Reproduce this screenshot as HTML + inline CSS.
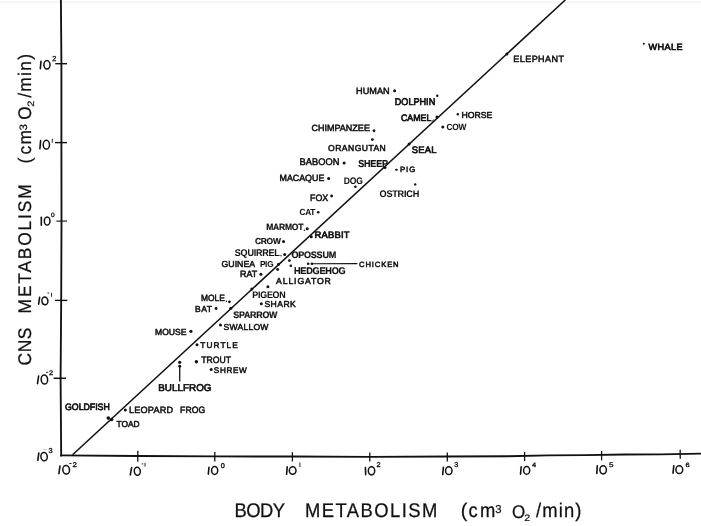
<!DOCTYPE html>
<html><head><meta charset="utf-8"><title>CNS metabolism vs body metabolism</title>
<style>html,body{margin:0;padding:0;background:#fff;overflow:hidden}svg{display:block;filter:grayscale(1)}text{font-family:"Liberation Sans",sans-serif;fill:#111;text-rendering:geometricPrecision}.b{font-weight:bold}</style></head><body>
<svg width="701" height="526" viewBox="0 0 701 526">
<rect x="0" y="0" width="701" height="526" fill="#ffffff"/>
<rect x="0" y="1.4" width="701" height="1.6" fill="#f3f3f3"/>
<g stroke="#111" fill="none" stroke-linecap="butt">
<polyline stroke-width="1.85" points="60.9,0 61.4,63 61.4,143 61.5,221 61.2,300 60.6,378 61.2,456.4"/>
<polyline stroke-width="1.85" points="60.3,455.4 138,456.0 215,456.4 292,456.5 370,456.8 447,456.5 508,456.2 548,455.4 585,455.1 625,454.5 661,454.3 701,453.6"/>
<line stroke-width="1.55" x1="72.6" y1="454.8" x2="565.3" y2="0"/>
<line stroke-width="1.4" x1="55.3" y1="63.7" x2="67.0" y2="63.7"/>
<line stroke-width="1.4" x1="55.0" y1="142.6" x2="67.0" y2="142.6"/>
<line stroke-width="1.1" x1="56.4" y1="221.1" x2="67.0" y2="221.1"/>
<line stroke-width="1.4" x1="55.0" y1="300.4" x2="67.3" y2="300.4"/>
<line stroke-width="1.5" x1="53.6" y1="378.3" x2="66.0" y2="378.3"/>
<line stroke-width="1.3" x1="137.8" y1="450.8" x2="137.8" y2="461.8"/>
<line stroke-width="1.3" x1="214.8" y1="451.9" x2="214.8" y2="461.5"/>
<line stroke-width="1.3" x1="292.4" y1="452.2" x2="292.4" y2="461.5"/>
<line stroke-width="1.3" x1="369.8" y1="452.6" x2="369.8" y2="461.5"/>
<line stroke-width="1.3" x1="447.3" y1="452.6" x2="447.3" y2="461.5"/>
<line stroke-width="1.3" x1="524.6" y1="451.9" x2="524.6" y2="461.1"/>
<line stroke-width="1.3" x1="601.6" y1="450.8" x2="601.6" y2="460.4"/>
<line stroke-width="1.3" x1="680.2" y1="449.8" x2="680.2" y2="458.7"/>
<line stroke-width="1.15" x1="312" y1="263.8" x2="357.4" y2="263.6"/>
<line stroke-width="1.3" x1="179.7" y1="365" x2="179.7" y2="381.5"/>
</g>
<g fill="#111">
<circle cx="643.8" cy="43.8" r="1.0"/>
<circle cx="506.9" cy="54.1" r="1.5"/>
<circle cx="394.6" cy="90.7" r="1.5"/>
<circle cx="437.3" cy="95.8" r="1.2"/>
<circle cx="437.0" cy="117.1" r="1.5"/>
<circle cx="457.8" cy="114.3" r="1.2"/>
<circle cx="442.8" cy="127.0" r="1.5"/>
<circle cx="372.4" cy="139.6" r="1.4"/>
<circle cx="409.1" cy="143.9" r="1.5"/>
<circle cx="344.1" cy="163.1" r="1.5"/>
<circle cx="385.0" cy="167.5" r="1.5"/>
<circle cx="328.6" cy="178.6" r="1.5"/>
<circle cx="355.4" cy="186.8" r="1.3"/>
<circle cx="415.2" cy="184.4" r="1.2"/>
<circle cx="331.6" cy="196.0" r="1.4"/>
<circle cx="318.2" cy="212.3" r="1.3"/>
<circle cx="307.2" cy="228.8" r="1.5"/>
<circle cx="311.3" cy="236.7" r="1.5"/>
<circle cx="283.5" cy="241.6" r="1.5"/>
<circle cx="284.7" cy="254.6" r="1.5"/>
<circle cx="289.4" cy="260.6" r="1.4"/>
<circle cx="278.5" cy="264.3" r="1.5"/>
<circle cx="277.6" cy="269.5" r="1.4"/>
<circle cx="290.8" cy="265.8" r="1.3"/>
<circle cx="308.2" cy="263.8" r="1.3"/>
<circle cx="311.9" cy="263.8" r="1.3"/>
<circle cx="260.9" cy="274.2" r="1.5"/>
<circle cx="267.9" cy="286.8" r="1.5"/>
<circle cx="251.8" cy="289.0" r="1.5"/>
<circle cx="229.4" cy="301.8" r="1.4"/>
<circle cx="261.3" cy="303.7" r="1.5"/>
<circle cx="216.1" cy="308.5" r="1.4"/>
<circle cx="230.8" cy="308.2" r="1.5"/>
<circle cx="220.5" cy="325.0" r="1.5"/>
<circle cx="190.9" cy="331.3" r="1.6"/>
<circle cx="197.0" cy="344.7" r="1.5"/>
<circle cx="196.4" cy="361.7" r="1.7"/>
<circle cx="211.2" cy="369.5" r="1.5"/>
<circle cx="179.7" cy="362.3" r="1.6"/>
<circle cx="179.7" cy="366.2" r="1.45"/>
<circle cx="108.3" cy="418.1" r="1.8"/>
<circle cx="111.6" cy="419.5" r="1.8"/>
<circle cx="125.3" cy="410.0" r="1.5"/>
<ellipse cx="396.5" cy="169.7" rx="1.4" ry="0.95"/>
<path d="M372.3,130.8 L374.0,129.0 L375.7,130.8 L374.0,132.5 Z"/>
</g>
<text x="648.4" y="49.7" font-size="9.15" stroke="#111" stroke-width="0.68" textLength="34.2" lengthAdjust="spacing">WHALE</text>
<text x="513.2" y="62.1" font-size="9.01" stroke="#111" stroke-width="0.5" textLength="50.8" lengthAdjust="spacing">ELEPHANT</text>
<text x="356.1" y="94.2" font-size="9.15" stroke="#111" stroke-width="0.52" textLength="33.5" lengthAdjust="spacingAndGlyphs">HUMAN</text>
<text x="394.8" y="105.4" font-size="9.71" stroke="#111" stroke-width="0.7" textLength="40.4" lengthAdjust="spacingAndGlyphs">DOLPHIN</text>
<text x="401.0" y="120.5" font-size="9.43" stroke="#111" stroke-width="0.7" textLength="30.4" lengthAdjust="spacingAndGlyphs">CAMEL</text>
<text x="461.5" y="117.5" font-size="8.73" stroke="#111" stroke-width="0.52" textLength="30.9" lengthAdjust="spacingAndGlyphs">HORSE</text>
<text x="446.5" y="130.2" font-size="9.01" font-weight="bold" letter-spacing="-0.25" stroke="#111" stroke-width="0.05" textLength="19.8" lengthAdjust="spacingAndGlyphs">COW</text>
<text x="311.5" y="131.1" font-size="9.01" stroke="#111" stroke-width="0.5" textLength="58.4" lengthAdjust="spacing">CHIMPANZEE</text>
<text x="328.1" y="150.7" font-size="8.59" stroke="#111" stroke-width="0.5" textLength="57.7" lengthAdjust="spacing">ORANGUTAN</text>
<text x="411.7" y="152.8" font-size="9.43" stroke="#111" stroke-width="0.68" textLength="24.9" lengthAdjust="spacing">SEAL</text>
<text x="299.6" y="165.2" font-size="9.71" stroke="#111" stroke-width="0.52" textLength="39.8" lengthAdjust="spacingAndGlyphs">BABOON</text>
<text x="358.2" y="166.5" font-size="10.13" font-weight="bold" letter-spacing="-0.25" stroke="#111" stroke-width="0.2" textLength="29.6" lengthAdjust="spacingAndGlyphs">SHEEP</text>
<text x="399.9" y="171.6" font-size="7.75" stroke="#111" stroke-width="0.5" textLength="15.3" lengthAdjust="spacing">PIG</text>
<text x="279.5" y="181.4" font-size="9.01" stroke="#111" stroke-width="0.52" textLength="44.8" lengthAdjust="spacingAndGlyphs">MACAQUE</text>
<text x="343.8" y="184.3" font-size="9.57" font-weight="bold" letter-spacing="-0.25" stroke="#111" stroke-width="0.05" textLength="18.8" lengthAdjust="spacingAndGlyphs">DOG</text>
<text x="379.5" y="197.0" font-size="9.57" font-weight="bold" letter-spacing="-0.25" stroke="#111" stroke-width="0.05" textLength="39.5" lengthAdjust="spacingAndGlyphs">OSTRICH</text>
<text x="310.0" y="200.5" font-size="9.29" stroke="#111" stroke-width="0.52" textLength="18.2" lengthAdjust="spacingAndGlyphs">FOX</text>
<text x="299.4" y="215.2" font-size="8.87" font-weight="bold" letter-spacing="-0.25" stroke="#111" stroke-width="0.05" textLength="15.7" lengthAdjust="spacingAndGlyphs">CAT</text>
<text x="266.2" y="230.1" font-size="9.01" font-weight="bold" letter-spacing="-0.25" stroke="#111" stroke-width="0.2" textLength="37.0" lengthAdjust="spacingAndGlyphs">MARMOT</text>
<text x="314.5" y="238.4" font-size="9.43" stroke="#111" stroke-width="0.68" textLength="35.1" lengthAdjust="spacing">RABBIT</text>
<text x="254.9" y="243.9" font-size="8.73" font-weight="bold" letter-spacing="-0.25" stroke="#111" stroke-width="0.2" textLength="25.7" lengthAdjust="spacingAndGlyphs">CROW</text>
<text x="234.8" y="255.8" font-size="9.71" font-weight="bold" letter-spacing="-0.25" stroke="#111" stroke-width="0.05" textLength="44.8" lengthAdjust="spacingAndGlyphs">SQUIRREL</text>
<text x="291.4" y="258.0" font-size="9.43" font-weight="bold" letter-spacing="-0.25" stroke="#111" stroke-width="0.2" textLength="44.6" lengthAdjust="spacingAndGlyphs">OPOSSUM</text>
<text x="221.5" y="266.6" font-size="8.73" stroke="#111" stroke-width="0.5" textLength="33.6" lengthAdjust="spacing">GUINEA</text>
<text x="259.9" y="266.6" font-size="8.73" font-weight="bold" letter-spacing="-0.25" stroke="#111" stroke-width="0.05" textLength="13.4" lengthAdjust="spacingAndGlyphs">PIG</text>
<text x="359.1" y="266.6" font-size="7.61" stroke="#111" stroke-width="0.5" textLength="39.5" lengthAdjust="spacing">CHICKEN</text>
<text x="294.0" y="273.6" font-size="9.71" font-weight="bold" letter-spacing="-0.25" stroke="#111" stroke-width="0.2" textLength="51.4" lengthAdjust="spacingAndGlyphs">HEDGEHOG</text>
<text x="240.1" y="277.3" font-size="9.01" stroke="#111" stroke-width="0.52" textLength="17.2" lengthAdjust="spacingAndGlyphs">RAT</text>
<text x="276.1" y="283.6" font-size="8.73" stroke="#111" stroke-width="0.5" textLength="54.8" lengthAdjust="spacing">ALLIGATOR</text>
<text x="252.3" y="297.7" font-size="9.57" font-weight="bold" letter-spacing="-0.25" stroke="#111" stroke-width="0.05" textLength="33.2" lengthAdjust="spacingAndGlyphs">PIGEON</text>
<text x="201.0" y="301.0" font-size="9.01" stroke="#111" stroke-width="0.52" textLength="23.8" lengthAdjust="spacingAndGlyphs">MOLE</text>
<text x="264.4" y="306.8" font-size="8.59" stroke="#111" stroke-width="0.5" textLength="31.4" lengthAdjust="spacing">SHARK</text>
<text x="195.0" y="311.7" font-size="8.59" stroke="#111" stroke-width="0.5" textLength="17.0" lengthAdjust="spacing">BAT</text>
<text x="233.3" y="317.8" font-size="9.43" font-weight="bold" letter-spacing="-0.25" stroke="#111" stroke-width="0.2" textLength="43.9" lengthAdjust="spacingAndGlyphs">SPARROW</text>
<text x="223.6" y="329.9" font-size="8.59" stroke="#111" stroke-width="0.5" textLength="44.8" lengthAdjust="spacing">SWALLOW</text>
<text x="155.0" y="335.4" font-size="8.87" stroke="#111" stroke-width="0.52" textLength="31.4" lengthAdjust="spacingAndGlyphs">MOUSE</text>
<text x="200.2" y="348.4" font-size="8.31" stroke="#111" stroke-width="0.5" textLength="37.7" lengthAdjust="spacing">TURTLE</text>
<text x="201.2" y="363.0" font-size="9.29" stroke="#111" stroke-width="0.52" textLength="29.8" lengthAdjust="spacingAndGlyphs">TROUT</text>
<text x="213.8" y="372.6" font-size="8.17" stroke="#111" stroke-width="0.5" textLength="32.9" lengthAdjust="spacing">SHREW</text>
<text x="158.2" y="390.8" font-size="9.85" stroke="#111" stroke-width="0.68" textLength="53.3" lengthAdjust="spacing">BULLFROG</text>
<text x="65.0" y="409.7" font-size="9.29" stroke="#111" stroke-width="0.7" textLength="44.8" lengthAdjust="spacingAndGlyphs">GOLDFISH</text>
<text x="129.0" y="413.2" font-size="9.15" stroke="#111" stroke-width="0.5" textLength="44.1" lengthAdjust="spacing">LEOPARD</text>
<text x="180.1" y="413.2" font-size="9.15" stroke="#111" stroke-width="0.52" textLength="25.1" lengthAdjust="spacingAndGlyphs">FROG</text>
<text x="116.5" y="426.8" font-size="8.73" stroke="#111" stroke-width="0.52" textLength="23.1" lengthAdjust="spacingAndGlyphs">TOAD</text>
<line x1="432.2" y1="121.6" x2="433.5" y2="119.6" stroke="#111" stroke-width="0.9"/>
<circle cx="304.4" cy="230.3" r="0.7" fill="#111"/>
<circle cx="281.0" cy="255.70000000000002" r="0.7" fill="#111"/>
<circle cx="226.4" cy="301.29999999999995" r="0.7" fill="#111"/>
<g stroke="#111" fill="none" stroke-linecap="round">
<line stroke-width="1.6" x1="40.3" y1="68.7" x2="41.0" y2="61.3"/>
<ellipse stroke-width="1.5" cx="46.95" cy="64.85" rx="3.05" ry="4.25" transform="rotate(0 46.95 64.85)"/>
<line stroke-width="1.6" x1="39.9" y1="148.7" x2="40.6" y2="140.6"/>
<ellipse stroke-width="1.5" cx="46.35" cy="144.70" rx="3.15" ry="4.40" transform="rotate(0 46.35 144.70)"/>
<line stroke-width="0.9" x1="52.3" y1="139.1" x2="52.3" y2="142.4"/>
<line stroke-width="1.6" x1="41.3" y1="225.3" x2="41.3" y2="217.3"/>
<ellipse stroke-width="1.5" cx="47.15" cy="221.00" rx="2.85" ry="4.10" transform="rotate(0 47.15 221.00)"/>
<line stroke-width="1.6" x1="38.6" y1="304.1" x2="39.6" y2="297.4"/>
<ellipse stroke-width="1.5" cx="44.90" cy="300.90" rx="3.00" ry="3.90" transform="rotate(-6 44.90 300.90)"/>
<line stroke-width="0.9" x1="47.8" y1="293.0" x2="48.9" y2="293.0"/>
<line stroke-width="0.9" x1="51.6" y1="293.1" x2="51.6" y2="296.4"/>
<line stroke-width="1.6" x1="37.5" y1="383.7" x2="38.6" y2="376.0"/>
<ellipse stroke-width="1.5" cx="44.40" cy="379.50" rx="3.20" ry="4.60" transform="rotate(-6 44.40 379.50)"/>
<line stroke-width="0.9" x1="46.4" y1="372.3" x2="47.9" y2="372.3"/>
<line stroke-width="1.6" x1="37.8" y1="460.3" x2="38.8" y2="453.0"/>
<ellipse stroke-width="1.5" cx="44.10" cy="456.65" rx="3.20" ry="4.15" transform="rotate(-6 44.10 456.65)"/>
<line stroke-width="0.7" stroke="#999" stroke-dasharray="0.6 1.0" x1="44.0" y1="449.4" x2="46.6" y2="449.4"/>
<line stroke-width="1.6" x1="58.9" y1="473.7" x2="60.0" y2="466.0"/>
<ellipse stroke-width="1.5" cx="66.15" cy="469.80" rx="3.35" ry="4.30" transform="rotate(-6 66.15 469.80)"/>
<line stroke-width="0.9" x1="69.6" y1="463.5" x2="71.2" y2="463.5"/>
<line stroke-width="1.6" x1="130.3" y1="474.9" x2="131.6" y2="467.6"/>
<ellipse stroke-width="1.5" cx="137.30" cy="471.25" rx="3.00" ry="4.05" transform="rotate(-6 137.30 471.25)"/>
<line stroke-width="0.9" x1="142.1" y1="463.9" x2="142.9" y2="463.9"/>
<line stroke-width="0.9" x1="145.0" y1="463.2" x2="145.0" y2="466.2"/>
<line stroke-width="1.6" x1="208.3" y1="474.2" x2="209.0" y2="467.2"/>
<ellipse stroke-width="1.5" cx="214.65" cy="470.55" rx="3.05" ry="4.05" transform="rotate(0 214.65 470.55)"/>
<line stroke-width="1.6" x1="286.6" y1="474.2" x2="287.2" y2="466.9"/>
<ellipse stroke-width="1.5" cx="292.65" cy="470.55" rx="3.35" ry="3.75" transform="rotate(0 292.65 470.55)"/>
<line stroke-width="0.9" x1="299.9" y1="462.9" x2="299.9" y2="466.6"/>
<line stroke-width="1.6" x1="365.7" y1="474.6" x2="365.4" y2="467.6"/>
<ellipse stroke-width="1.5" cx="371.50" cy="470.85" rx="3.20" ry="4.05" transform="rotate(0 371.50 470.85)"/>
<line stroke-width="1.6" x1="442.7" y1="474.6" x2="443.4" y2="467.2"/>
<ellipse stroke-width="1.5" cx="448.80" cy="470.70" rx="3.20" ry="3.90" transform="rotate(0 448.80 470.70)"/>
<line stroke-width="1.6" x1="520.5" y1="474.2" x2="521.2" y2="466.9"/>
<ellipse stroke-width="1.5" cx="526.65" cy="470.40" rx="3.05" ry="3.90" transform="rotate(0 526.65 470.40)"/>
<line stroke-width="1.6" x1="596.8" y1="473.5" x2="597.3" y2="465.8"/>
<ellipse stroke-width="1.5" cx="603.15" cy="469.85" rx="3.25" ry="4.05" transform="rotate(0 603.15 469.85)"/>
<line stroke-width="1.6" x1="673.0" y1="473.2" x2="673.8" y2="465.8"/>
<ellipse stroke-width="1.5" cx="679.30" cy="469.70" rx="3.40" ry="3.90" transform="rotate(0 679.30 469.70)"/>
</g>
<text x="52.2" y="60.5" font-size="7.26" stroke="#111" stroke-width="0.32" textLength="4.1" lengthAdjust="spacingAndGlyphs">2</text>
<text x="51.0" y="216.8" font-size="6.28" stroke="#111" stroke-width="0.32" textLength="3.6" lengthAdjust="spacingAndGlyphs">0</text>
<text x="48.9" y="375.2" font-size="6.70" stroke="#111" stroke-width="0.32" textLength="4.1" lengthAdjust="spacingAndGlyphs">2</text>
<text x="48.5" y="452.9" font-size="7.26" stroke="#111" stroke-width="0.32" textLength="4.1" lengthAdjust="spacingAndGlyphs">3</text>
<text x="72.4" y="467.4" font-size="6.84" stroke="#111" stroke-width="0.32" textLength="4.4" lengthAdjust="spacingAndGlyphs">2</text>
<text x="220.7" y="467.8" font-size="6.84" stroke="#111" stroke-width="0.32" textLength="4.1" lengthAdjust="spacingAndGlyphs">0</text>
<text x="376.6" y="467.4" font-size="7.12" stroke="#111" stroke-width="0.32" textLength="4.1" lengthAdjust="spacingAndGlyphs">2</text>
<text x="454.3" y="467.4" font-size="7.12" stroke="#111" stroke-width="0.32" textLength="4.1" lengthAdjust="spacingAndGlyphs">3</text>
<text x="531.9" y="467.1" font-size="6.28" stroke="#111" stroke-width="0.32" textLength="4.1" lengthAdjust="spacingAndGlyphs">4</text>
<text x="608.9" y="466.7" font-size="6.70" stroke="#111" stroke-width="0.32" textLength="4.5" lengthAdjust="spacingAndGlyphs">5</text>
<text x="685.4" y="466.7" font-size="6.15" stroke="#111" stroke-width="0.32" textLength="4.1" lengthAdjust="spacingAndGlyphs">6</text>
<g stroke="#111">
<text transform="translate(234.5 517.4) scale(0.93 1)" font-size="19.80" stroke-width="0.26" textLength="54.4" lengthAdjust="spacing">BODY</text>
<text transform="translate(305.0 517.4) scale(0.93 1)" font-size="19.80" stroke-width="0.26" textLength="142.4" lengthAdjust="spacing">METABOLISM</text>
<text transform="translate(460.8 517.4)" font-size="19.80" stroke-width="0.2">(</text>
<text transform="translate(468.4 517.4) scale(0.93 1)" font-size="19.80" stroke-width="0.26" textLength="29.0" lengthAdjust="spacing">cm</text>
<text transform="translate(495.3 513.1) scale(1.0 1)" font-size="11.40" stroke-width="0.2" textLength="6.3" lengthAdjust="spacingAndGlyphs">3</text>
<text transform="translate(512.0 518.0) scale(1.0 1)" font-size="18.40" stroke-width="0.26" textLength="13.2" lengthAdjust="spacingAndGlyphs">O</text>
<text transform="translate(524.3 521.0) scale(1.0 1)" font-size="9.40" stroke-width="0.2" textLength="5.9" lengthAdjust="spacingAndGlyphs">2</text>
<text transform="translate(535.9 517.4) scale(0.93 1)" font-size="19.80" stroke-width="0.26" textLength="49.0" lengthAdjust="spacing">/min)</text>
</g>
<g transform="rotate(-90)" stroke="#111">
<text transform="translate(-365.4 30.8) scale(0.95 1)" font-size="18.30" stroke-width="0.26" textLength="39.8" lengthAdjust="spacing">CNS</text>
<text transform="translate(-313.4 30.8) scale(0.95 1)" font-size="18.30" stroke-width="0.26" textLength="135.8" lengthAdjust="spacing">METABOLISM</text>
<text transform="translate(-163.4 30.8)" font-size="18.30" stroke-width="0.2">(</text>
<text transform="translate(-154.6 30.8) scale(0.95 1)" font-size="18.30" stroke-width="0.26" textLength="25.9" lengthAdjust="spacing">cm</text>
<text transform="translate(-130.5 26.6) scale(1.0 1)" font-size="10.80" stroke-width="0.2" textLength="6.4" lengthAdjust="spacingAndGlyphs">3</text>
<text transform="translate(-119.8 30.8) scale(1.0 1)" font-size="18.30" stroke-width="0.26" textLength="13.3" lengthAdjust="spacingAndGlyphs">O</text>
<text transform="translate(-106.7 34.2) scale(1.0 1)" font-size="9.20" stroke-width="0.2" textLength="6.1" lengthAdjust="spacingAndGlyphs">2</text>
<text transform="translate(-97.8 30.8) scale(0.95 1)" font-size="18.30" stroke-width="0.26" textLength="46.1" lengthAdjust="spacing">/min)</text>
</g>
</svg></body></html>
